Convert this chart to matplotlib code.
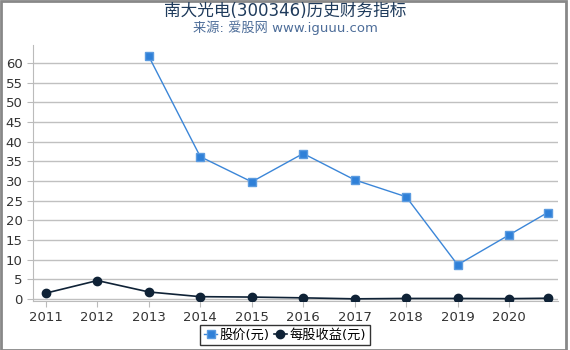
import matplotlib
matplotlib.use("Agg")
import matplotlib.pyplot as plt
from matplotlib.lines import Line2D

plt.rcParams['font.family'] = ['DejaVu Sans', 'Noto Sans CJK SC']

years = [2011, 2012, 2013, 2014, 2015, 2016, 2017, 2018, 2019, 2020, 2020.75]
year_ticks = [2011, 2012, 2013, 2014, 2015, 2016, 2017, 2018, 2019, 2020]
price = [None, None, 61.7, 36.2, 29.8, 37.0, 30.3, 26.0, 8.7, 16.3, 22.0]
eps = [1.5, 4.7, 1.8, 0.6, 0.5, 0.3, 0.05, 0.15, 0.15, 0.1, 0.2]
y_ticks = [0, 5, 10, 15, 20, 25, 30, 35, 40, 45, 50, 55, 60]

fig = plt.figure(figsize=(5.7, 3.5), dpi=100)
ax = fig.add_axes([33/570, 1-301/350, (558-33)/570, (301-45)/350])

px = [x for x, v in zip(years, price) if v is not None]
pv = [v for v in price if v is not None]
ax.plot(years, eps, color='#0f2236', lw=1.2, marker='o', ms=6, zorder=3)
ax.plot(px, pv, color='#3b86d8', lw=1.0, marker='s', ms=6,
        markerfacecolor='#2f80d8', markeredgecolor='#5b9be0', zorder=4)

ax.set_xlim(2010.75, 2020.95)
ax.set_ylim(-0.5, 64.6)
ax.set_yticks(y_ticks)
ax.set_xticks(year_ticks)
ax.set_xticklabels([str(y) for y in year_ticks])
ax.grid(axis='y', color='#c0c0c0', lw=1)
ax.set_axisbelow(True)
for s in ['top', 'right']:
    ax.spines[s].set_visible(False)
ax.spines['left'].set_color('#bbbbbb')
ax.spines['bottom'].set_color('#bbbbbb')
ax.tick_params(axis='both', colors='#bbbbbb', labelcolor='#333333', labelsize=9.5, length=4)

fig.text(0.5, 1-11/350, '南大光电(300346)历史财务指标', ha='center', va='center',
         fontsize=12, color='#1f3b5c')
fig.text(0.5, 1-28/350, '来源: 爱股网 www.iguuu.com', ha='center', va='center',
         fontsize=9.5, color='#4d6d99')

handles = [Line2D([], [], color='#3b86d8', marker='s', ms=6, markerfacecolor='#2f80d8',
                  markeredgecolor='#5b9be0', lw=1),
           Line2D([], [], color='#0f2236', marker='o', ms=6, lw=1.2)]
leg = fig.legend(handles, ['股价(元)', '每股收益(元)'], loc='center',
                 bbox_to_anchor=(0.5, 1-335/350), ncol=2, fontsize=9.5, frameon=True,
                 fancybox=False, handlelength=1.0, handletextpad=0.2, columnspacing=0.3,
                 borderpad=0.3, borderaxespad=0, edgecolor='black')
leg.get_frame().set_linewidth(1)

fig.patches.append(plt.Rectangle((0.5/570, 0.5/350), 1-5/570, 1-1.5/350, transform=fig.transFigure,
                                 fill=False, edgecolor='#888888', lw=2))
fig.savefig('out.png', dpi=100)
